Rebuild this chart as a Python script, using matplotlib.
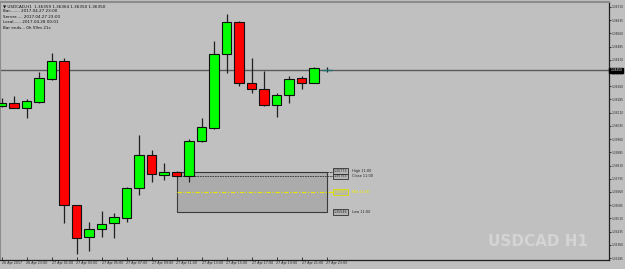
import matplotlib
matplotlib.use("Agg")
import matplotlib.pyplot as plt
from matplotlib.patches import Rectangle
import matplotlib.transforms as mtransforms

# hourly candles, 26 Apr 21:00 .. 27 Apr 23:00
opens = [1.36148, 1.36165, 1.36137, 1.36171, 1.36301, 1.36403, 1.35586, 1.35404, 1.35450,
         1.35484, 1.35512, 1.35682, 1.35870, 1.35756, 1.35773, 1.35750, 1.35949, 1.36023,
         1.36443, 1.36625, 1.36279, 1.36244, 1.36154, 1.36210, 1.36307, 1.36279, 1.36350]
highs = [1.36193, 1.36205, 1.36188, 1.36341, 1.36449, 1.36420, 1.35586, 1.35489, 1.35552,
         1.35540, 1.35688, 1.35983, 1.35898, 1.35824, 1.35779, 1.35961, 1.36080, 1.36517,
         1.36670, 1.36631, 1.36420, 1.36347, 1.36222, 1.36318, 1.36318, 1.36369, 1.36369]
lows = [1.36142, 1.36137, 1.36080, 1.36165, 1.36296, 1.35484, 1.35308, 1.35325, 1.35404,
        1.35398, 1.35489, 1.35643, 1.35716, 1.35728, 1.35745, 1.35716, 1.35945, 1.36017,
        1.36335, 1.36261, 1.36222, 1.36148, 1.36085, 1.36165, 1.36244, 1.36279, 1.36341]
closes = [1.36165, 1.36137, 1.36176, 1.36307, 1.36403, 1.35586, 1.35398, 1.35450, 1.35478,
          1.35518, 1.35682, 1.35870, 1.35762, 1.35773, 1.35750, 1.35949, 1.36029, 1.36443,
          1.36625, 1.36279, 1.36244, 1.36154, 1.36210, 1.36301, 1.36279, 1.36364, 1.36350]

time_labels = ["26 Apr 2017", "26 Apr 23:00", "27 Apr 01:00", "27 Apr 03:00", "27 Apr 05:00",
               "27 Apr 07:00", "27 Apr 09:00", "27 Apr 11:00", "27 Apr 13:00", "27 Apr 15:00",
               "27 Apr 17:00", "27 Apr 19:00", "27 Apr 21:00", "27 Apr 23:00"]
price_ticks = [1.36710, 1.36635, 1.36560, 1.36485, 1.36410, 1.36335, 1.36260, 1.36185,
               1.36110, 1.36035, 1.35960, 1.35885, 1.35810, 1.35735, 1.35660, 1.35585,
               1.35510, 1.35435, 1.35360, 1.35285]

bid = 1.36350
# 11:00 box levels
box_high = 1.35773
box_close = 1.35753
box_low = 1.35546
box_mid = 1.35660

header = ["\u25bc USDCAD,H1  1.36359 1.36364 1.36350 1.36350",
          "Bar........ 2017.04.27 23:00",
          "Server..... 2017.04.27 23:00",
          "Local...... 2017.04.28 00:01",
          "Bar ends... 0h 59m 21s"]

bg = "#c0c0c0"
fig = plt.figure(figsize=(6.25, 2.69), dpi=100, facecolor=bg)
ax = fig.add_axes([0.0, 0.0335, 0.9744, 0.959])
ax.set_facecolor(bg)

n = len(opens)
xs = list(range(n))

# wicks
ax.vlines(xs, lows, highs, color="#202020", lw=0.9, zorder=2)

# bodies
for i in xs:
    o, c = opens[i], closes[i]
    if c > o:
        col = "#00ff00"
    elif c < o:
        col = "#ff0000"
    else:
        col = "#202020"
    h = abs(c - o)
    if h < 0.00003:
        ax.hlines(o, i - 0.4, i + 0.4, color="#207070", lw=1.0, zorder=3)
        continue
    ax.bar(i, h, bottom=min(o, c), width=0.78, color=col,
           edgecolor="#101010", linewidth=0.8, zorder=3)

# bid line
ax.axhline(bid, color="#5a5a5a", lw=1.0, zorder=1)

# 11:00 range box
ax.add_patch(Rectangle((14, box_low), 12, box_high - box_low, facecolor="#ababab",
                       edgecolor="#3a3a3a", lw=0.8, zorder=1))
ax.hlines([box_high, box_close], 14, 26.5, colors="#303030", linestyles=(0, (2, 1)), lw=0.6, zorder=2)
ax.hlines(box_mid, 14, 26.5, colors="#e6e600", linestyles=(0, (4, 1.5, 1, 1.5)), lw=0.8, zorder=2)

lvl = [(box_high, "High 11:00", "#202020", "#303030", 1.2),
       (box_close, "Close 11:00", "#202020", "#303030", -1.2),
       (box_mid, "Mid 11:00", "#f0f000", "#e0e000", 0),
       (box_low, "Low 11:00", "#202020", "#303030", 0)]
for y, name, tc, ec, dy in lvl:
    ax.text(26.55, y + dy * 0.00004, f"{y:.5f}", fontsize=2.3, color=tc, va="center", ha="left",
            bbox=dict(boxstyle="square,pad=0.25", facecolor="#b4b4b4", edgecolor=ec, lw=0.6), zorder=4)
    ax.text(28.0, y + dy * 0.00004, name, fontsize=2.5, color=tc, va="center", ha="left", zorder=4)

# watermark
ax.text(0.966, 0.055, "USDCAD H1", transform=ax.transAxes, ha="right", va="baseline",
        fontsize=11, fontweight="bold", color="#d4d4d4", zorder=0)

ax.set_xlim(-0.12, 48.6)
ax.set_ylim(1.35274, 1.36738)

# axes styling
for s in ["left", "top"]:
    ax.spines[s].set_color("#8c8c8c")
    ax.spines[s].set_linewidth(1.5)
ax.spines["right"].set_color("#202020")
ax.spines["bottom"].set_color("#202020")
ax.spines["right"].set_linewidth(0.9)
ax.spines["bottom"].set_linewidth(0.9)

ax.yaxis.tick_right()
ax.set_yticks(price_ticks)
ax.set_yticklabels([f"{p:.5f}" for p in price_ticks])
ax.tick_params(axis="y", length=1.5, width=0.6, pad=0.6, labelsize=2.1, colors="#202020")

ax.set_xticks(xs[::2])
ax.set_xticklabels(time_labels)
ax.tick_params(axis="x", length=2.5, width=0.6, pad=0.5, labelsize=2.3, colors="#202020", direction="in")
for lab in ax.get_xticklabels():
    lab.set_horizontalalignment("left")

# current price tag on the price scale
trans = mtransforms.blended_transform_factory(ax.transAxes, ax.transData)
ax.text(1.002, bid, f"{bid:.5f}", transform=trans, fontsize=2.1, color="white", va="center",
        ha="left", bbox=dict(boxstyle="square,pad=0.3", facecolor="black", edgecolor="black"),
        clip_on=False, zorder=5)

for k, line in enumerate(header):
    fig.text(0.005, 0.985 - k * 0.02, line, fontsize=3, color="#101010", va="top", ha="left")

fig.savefig("out.png", dpi=100, facecolor=bg)
